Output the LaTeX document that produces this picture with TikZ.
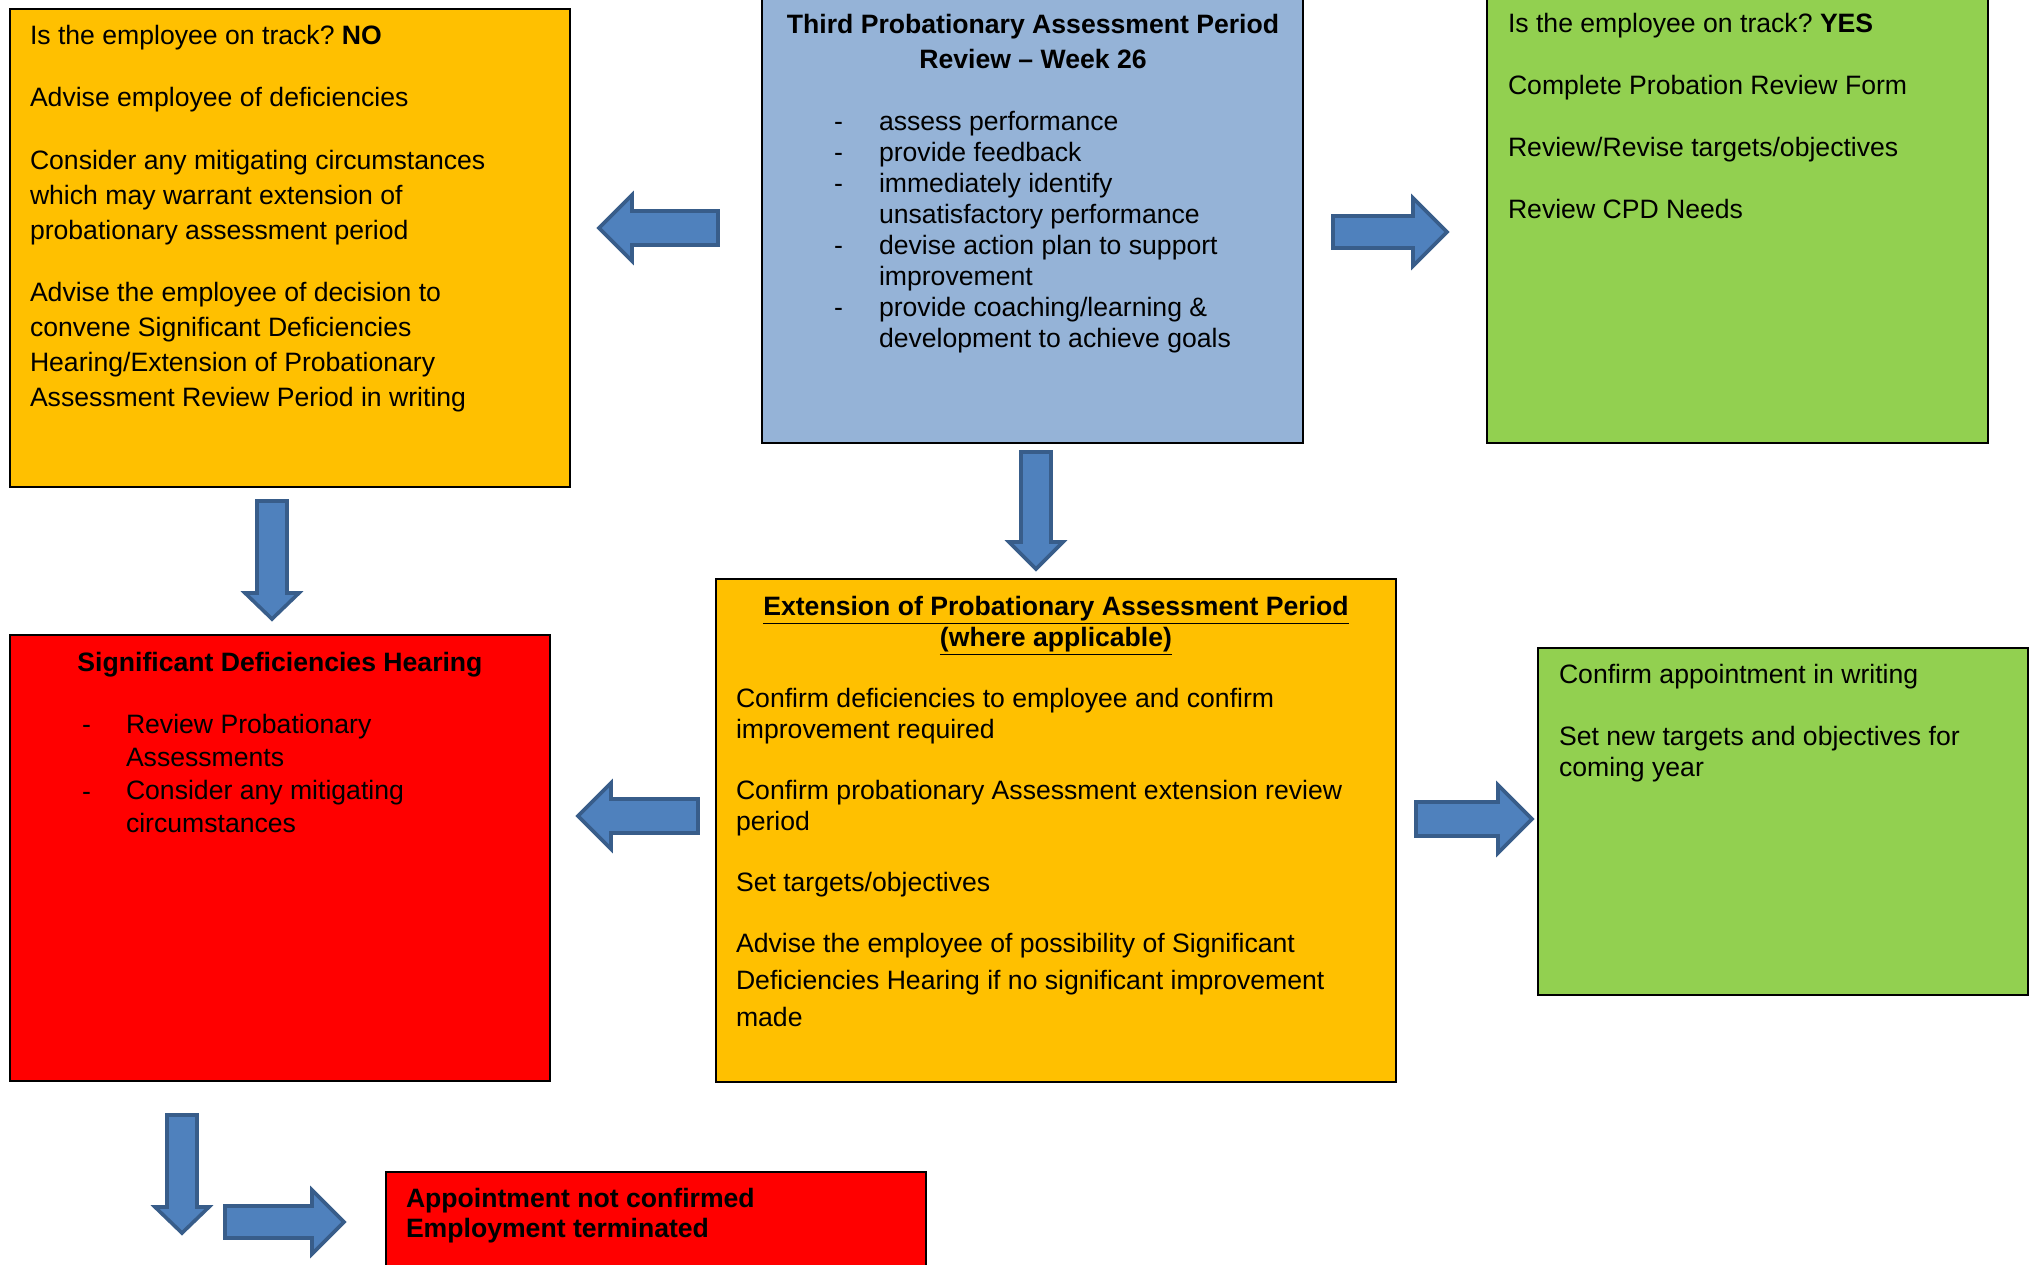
\documentclass[tikz,border=0pt]{standalone}
\usepackage{fontspec}
\setmainfont{Liberation Sans}
\frenchspacing
\definecolor{orangebox}{HTML}{FFC000}
\definecolor{bluebox}{HTML}{95B3D7}
\definecolor{greenbox}{HTML}{92D050}
\definecolor{redbox}{HTML}{FF0000}
\definecolor{arrowfill}{HTML}{4F81BD}
\definecolor{arrowline}{HTML}{385D8A}
\newcommand{\firststrut}{\rule{0pt}{10pt}}
\tikzset{
  panel/.style={draw=black, line width=0.8pt, inner sep=0pt, outer sep=0pt, anchor=north west},
  txt/.style={inner sep=0pt, outer sep=0pt, anchor=north west, align=left, font=\fontsize{13.3}{17.5}\selectfont},
  dashmark/.style={inner sep=0pt, outer sep=0pt, anchor=base west, font=\fontsize{13.3}{15.5}\selectfont},
  blockarrow/.style={fill=arrowfill, draw=arrowline, line width=1.8pt, line join=miter},
}
\begin{document}
\begin{tikzpicture}[x=0.5pt, y=-0.5pt]
\useasboundingbox (0,0) rectangle (2037,1264);

% ---------- boxes ----------
\node[panel, fill=orangebox, minimum width=280pt, minimum height=239pt] (nobox) at (10,9) {};
\node[panel, fill=bluebox, minimum width=270.5pt, minimum height=223pt] (review) at (762,-3) {};
\node[panel, fill=greenbox, minimum width=250.5pt, minimum height=223pt] (yesbox) at (1487,-3) {};
\node[panel, fill=redbox, minimum width=270pt, minimum height=223pt] (hearing) at (10,635) {};
\node[panel, fill=orangebox, minimum width=340pt, minimum height=251.5pt] (extension) at (716,579) {};
\node[panel, fill=greenbox, minimum width=245pt, minimum height=173.5pt] (confirm) at (1538,648) {};
\node[panel, fill=redbox, minimum width=270pt, minimum height=49pt] (terminated) at (386,1172) {};

% ---------- NO box text ----------
\node[txt] (notext) at (30,24) {\firststrut Is the employee on track? \textbf{NO}\\[13.75pt]
Advise employee of deficiencies\\[13.75pt]
Consider any mitigating circumstances\\
which may warrant extension of\\
probationary assessment period\\[13.75pt]
Advise the employee of decision to\\
convene Significant Deficiencies\\
Hearing/Extension of Probationary\\
Assessment Review Period in writing};

% ---------- review box text ----------
\node[txt, anchor=north, align=center, font=\fontsize{13.3}{17.5}\selectfont\bfseries] (reviewtitle) at (1033,13)
  {\firststrut Third Probationary Assessment Period\\Review – Week 26};
\node[dashmark] (rd1) at (834,130) {-};
\node[dashmark] (rd2) at (834,161) {-};
\node[dashmark] (rd3) at (834,192) {-};
\node[dashmark] (rd4) at (834,254) {-};
\node[dashmark] (rd5) at (834,316) {-};
\node[txt, font=\fontsize{13.3}{15.5}\selectfont] (reviewlist) at (879,110) {\firststrut assess performance\\
provide feedback\\
immediately identify\\
unsatisfactory performance\\
devise action plan to support\\
improvement\\
provide coaching/learning \&\\
development to achieve goals};

% ---------- YES box text ----------
\node[txt] (yestext) at (1508,12) {\firststrut Is the employee on track? \textbf{YES}\\[13.5pt]
Complete Probation Review Form\\[13.5pt]
Review/Revise targets/objectives\\[13.5pt]
Review CPD Needs};

% ---------- hearing box text ----------
\node[inner sep=0pt, anchor=base, font=\fontsize{13.3}{15.5}\selectfont\bfseries] (hearingtitle) at (280,671) {Significant Deficiencies Hearing};
\node[dashmark] (hd1) at (82,733) {-};
\node[dashmark] (hd2) at (82,800) {-};
\node[txt, font=\fontsize{13.3}{16.5}\selectfont] (hearinglist) at (126,713) {\firststrut Review Probationary\\
Assessments\\
Consider any mitigating\\
circumstances};

% ---------- extension box text ----------
\node[txt, anchor=north, align=center, font=\fontsize{13.3}{15.5}\selectfont\bfseries] (exttitle) at (1056,595)
  {\firststrut\underline{Extension of Probationary Assessment Period}\\\underline{(where applicable)}};
\node[txt, font=\fontsize{13.3}{15.5}\selectfont] (exttext) at (736,687) {\firststrut Confirm deficiencies to employee and confirm\\
improvement required\\[15pt]
Confirm probationary Assessment extension review\\
period\\[15pt]
Set targets/objectives\\[15pt]
Advise the employee of possibility of Significant\\[3pt]
Deficiencies Hearing if no significant improvement\\[3pt]
made};

% ---------- confirm box text ----------
\node[txt, font=\fontsize{13.3}{15.5}\selectfont] (confirmtext) at (1559,663) {\firststrut Confirm appointment in writing\\[15.5pt]
Set new targets and objectives for\\
coming year};

% ---------- terminated box text ----------
\node[txt, font=\fontsize{13.3}{15}\selectfont\bfseries] (termtext) at (406,1187) {\firststrut Appointment not confirmed\\
Employment terminated};

% ---------- block arrows ----------
% review -> NO (left)
\filldraw[blockarrow] (718,211) -- (632,211) -- (632,195) -- (599,228) -- (632,261) -- (632,245) -- (718,245) -- cycle;
% review -> YES (right)
\filldraw[blockarrow] (1333,216) -- (1413,216) -- (1413,198) -- (1447,232) -- (1413,266) -- (1413,248) -- (1333,248) -- cycle;
% review -> extension (down)
\filldraw[blockarrow] (1021,452) -- (1051,452) -- (1051,542) -- (1063,542) -- (1036,569) -- (1009,542) -- (1021,542) -- cycle;
% NO -> hearing (down)
\filldraw[blockarrow] (257,501) -- (287,501) -- (287,593) -- (299,593) -- (272,619) -- (245,593) -- (257,593) -- cycle;
% extension -> hearing (left)
\filldraw[blockarrow] (698,799) -- (611,799) -- (611,783) -- (578,816) -- (611,849) -- (611,833) -- (698,833) -- cycle;
% extension -> confirm (right)
\filldraw[blockarrow] (1416,802) -- (1498,802) -- (1498,785) -- (1532,819) -- (1498,853) -- (1498,836) -- (1416,836) -- cycle;
% hearing -> down
\filldraw[blockarrow] (167,1115) -- (197,1115) -- (197,1207) -- (209,1207) -- (182,1233) -- (155,1207) -- (167,1207) -- cycle;
% -> terminated (right)
\filldraw[blockarrow] (225,1206) -- (312,1206) -- (312,1190) -- (344,1222) -- (312,1254) -- (312,1238) -- (225,1238) -- cycle;
\end{tikzpicture}
\end{document}
